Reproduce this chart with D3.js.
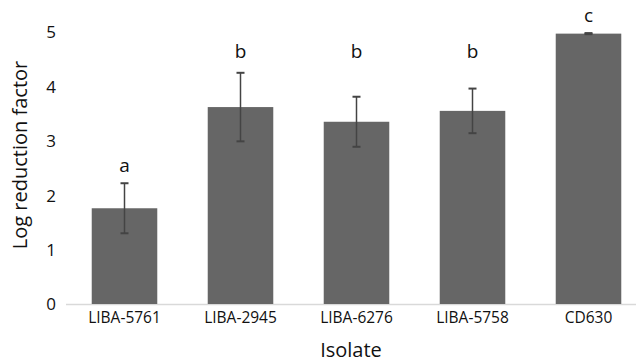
<!DOCTYPE html>
<html><head><meta charset="utf-8">
<script src="https://cdn.jsdelivr.net/npm/d3@7/dist/d3.min.js"></script>
<style>body{margin:0;background:#fff}svg{display:block}</style>
</head><body>
<svg id="c" width="636" height="362"></svg>
<script>
const categories = ["LIBA-5761","LIBA-2945","LIBA-6276","LIBA-5758","CD630"];
const values = [1.76, 3.62, 3.35, 3.55, 4.97];
const errors = [0.46, 0.63, 0.46, 0.41, 0.01];
const letters = ["a","b","b","b","c"];
const letterPos = [2.43, 4.52, 4.52, 4.52, 5.18];
const yTicks = [0,1,2,3,4,5];

const svg = d3.select("#c");
const font = "'Open Sans', 'Noto Sans', sans-serif";
const x = d3.scaleBand().domain(categories).range([66.5, 646.5]).paddingInner(0.435).paddingOuter(0.2175);
const y = d3.scaleLinear().domain([0,5]).range([304, 32]);

// axis line
svg.append("line").attr("x1",66).attr("x2",636).attr("y1",y(0)+0.5).attr("y2",y(0)+0.5)
  .attr("stroke","#d9d9d9").attr("stroke-width",1.5);

// bars
svg.selectAll("rect.bar").data(values).join("rect").attr("class","bar")
  .attr("x",(d,i)=>x(categories[i])).attr("width",x.bandwidth())
  .attr("y",d=>y(d)).attr("height",d=>y(0)-y(d)).attr("fill","#666666");

// error bars
const eg = svg.append("g").attr("stroke","#444").attr("stroke-width",1.5);
values.forEach((v,i)=>{
  const cx = x(categories[i])+x.bandwidth()/2;
  eg.append("line").attr("x1",cx).attr("x2",cx).attr("y1",y(v+errors[i])).attr("y2",y(v-errors[i]));
  eg.append("line").attr("x1",cx-4).attr("x2",cx+4).attr("y1",y(v+errors[i])).attr("y2",y(v+errors[i])).attr("stroke-width",2);
  eg.append("line").attr("x1",cx-4).attr("x2",cx+4).attr("y1",y(v-errors[i])).attr("y2",y(v-errors[i])).attr("stroke-width",2);
});

// letters
svg.selectAll("text.let").data(letters).join("text").attr("class","let")
  .attr("x",(d,i)=>x(categories[i])+x.bandwidth()/2).attr("y",(d,i)=>y(letterPos[i]))
  .attr("text-anchor","middle").attr("font-family",font).attr("font-size",19).attr("fill","#111").text(d=>d);

// y axis
const ya = svg.append("g").attr("transform","translate(56,0)")
  .call(d3.axisLeft(y).tickValues(yTicks).tickSize(0).tickPadding(0).tickFormat(d3.format("d")));
ya.select(".domain").remove();
ya.selectAll("text").attr("font-family",font).attr("font-size",17).attr("fill","#111").attr("dy","0.35em");

// x axis
const xa = svg.append("g").attr("transform",`translate(0,${y(0)})`)
  .call(d3.axisBottom(x).tickSize(0).tickPadding(8));
xa.select(".domain").remove();
xa.selectAll("text").attr("font-family",font).attr("font-size",15.5).attr("fill","#111");

// titles
svg.append("text").attr("x",351).attr("y",357).attr("text-anchor","middle")
  .attr("font-family",font).attr("font-size",20).attr("fill","#111").text("Isolate");
svg.append("text").attr("transform","translate(27,155) rotate(-90)").attr("text-anchor","middle")
  .attr("font-family",font).attr("font-size",20).attr("fill","#111").text("Log reduction factor");
</script>
</body></html>
